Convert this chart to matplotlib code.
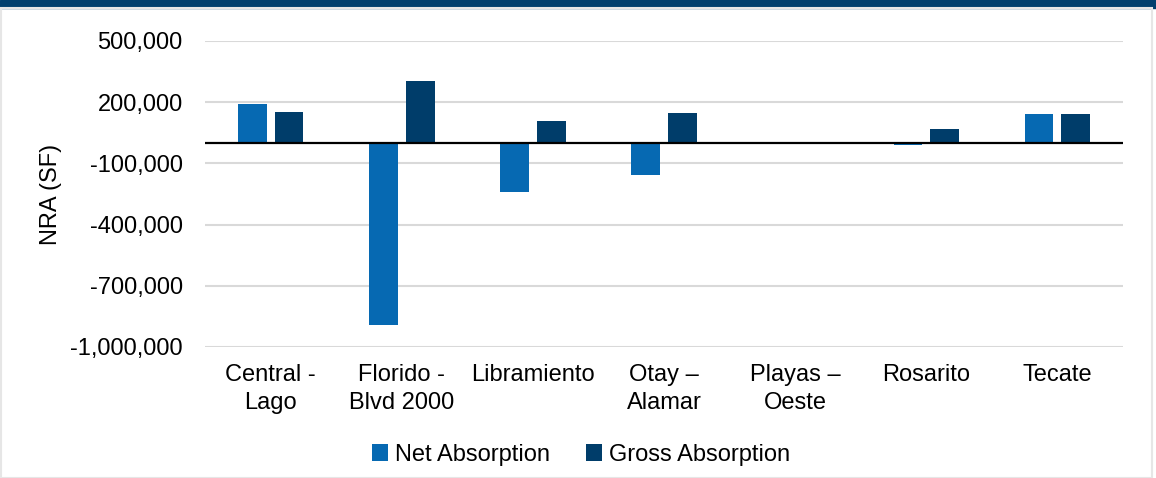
import numpy as np
import matplotlib.pyplot as plt
from matplotlib.patches import Rectangle
from matplotlib.ticker import FuncFormatter

plt.rcParams["font.family"] = ["Liberation Sans", "DejaVu Sans"]

categories = ["Central -\nLago", "Florido -\nBlvd 2000", "Libramiento", "Otay \u2013\nAlamar",
              "Playas \u2013\nOeste", "Rosarito", "Tecate"]
net_absorption = [190000, -892000, -238000, -157000, 0, -9000, 144000]
gross_absorption = [151000, 304000, 108000, 147000, 0, 68000, 144000]
y_ticks = [500000, 200000, -100000, -400000, -700000, -1000000]

NET_COLOR = "#0669B2"
GROSS_COLOR = "#003D6A"
BAND_COLOR = "#003F6E"
FS = 17

fig = plt.figure(figsize=(11.56, 4.78), dpi=100)
ax = fig.add_axes([205 / 1156, 1 - 347 / 478, 918 / 1156, 306 / 478])

x = np.arange(len(categories))
w = 0.22
ax.bar(x - 0.14, net_absorption, w, color=NET_COLOR, label="Net Absorption", zorder=3)
ax.bar(x + 0.14, gross_absorption, w, color=GROSS_COLOR, label="Gross Absorption", zorder=3)
ax.axhline(0, color="black", lw=1.6, zorder=4)

ax.set_xlim(-0.5, len(categories) - 0.5)
ax.set_ylim(-1000000, 500000)
ax.set_yticks(y_ticks)
ax.yaxis.set_major_formatter(FuncFormatter(lambda v, p: f"{int(v):,}"))
ax.set_xticks(x)
ax.set_xticklabels(categories, fontsize=FS, linespacing=1.4)
ax.tick_params(axis="y", length=0, pad=16, labelsize=FS)
ax.tick_params(axis="x", length=0, pad=12)
ax.grid(axis="y", color="#D9D9D9", lw=1.5, zorder=0)
for s in ax.spines.values():
    s.set_visible(False)
ax.set_ylabel("NRA (SF)", fontsize=FS)
ax.yaxis.set_label_coords(-143 / 918, 0.5)

ax.legend(loc="center", bbox_to_anchor=(581 / 1156, 1 - 455 / 478), bbox_transform=fig.transFigure,
          ncol=2, frameon=False, fontsize=FS, handlelength=0.7, handleheight=0.7,
          handletextpad=0.3, columnspacing=1.5)

fig.patches.append(Rectangle((0, 1 - 8 / 478), 1, 8 / 478, transform=fig.transFigure,
                             color=BAND_COLOR, zorder=0))
fig.patches.append(Rectangle((0.5 / 1156, 0), 1 - 5 / 1156, 1 - 8 / 478, transform=fig.transFigure,
                             fill=False, edgecolor="#E6E6E6", lw=1.5, zorder=0))

fig.savefig("out.png", dpi=100)
